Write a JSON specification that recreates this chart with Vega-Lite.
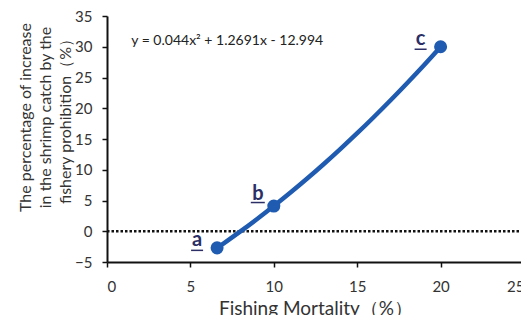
{
  "$schema": "https://vega.github.io/schema/vega-lite/v6.json",
  "width": 417,
  "height": 246,
  "autosize": {"type": "none"},
  "padding": {"left": 107, "top": 16, "right": 0, "bottom": 53},
  "background": "white",
  "config": {
    "view": {"stroke": null},
    "font": "Lato",
    "axis": {
      "grid": false,
      "domainColor": "#111111",
      "domainWidth": 2,
      "tickColor": "#111111",
      "tickWidth": 1.5,
      "tickSize": 5,
      "labelFont": "Lato",
      "labelFontSize": 15,
      "labelColor": "#333333",
      "labelOverlap": false,
      "titleFont": "Lato",
      "titleFontWeight": "normal",
      "titleColor": "#333333"
    }
  },
  "datasets": {
    "curve": [
      {"x": 6.6, "y": -2.7}, {"x": 7, "y": -1.96}, {"x": 8, "y": -0.03},
      {"x": 9, "y": 1.99}, {"x": 10, "y": 4.1}, {"x": 11, "y": 6.29},
      {"x": 12, "y": 8.57}, {"x": 13, "y": 10.94}, {"x": 14, "y": 13.4},
      {"x": 15, "y": 15.94}, {"x": 16, "y": 18.58}, {"x": 17, "y": 21.3},
      {"x": 18, "y": 24.11}, {"x": 19, "y": 27.0}, {"x": 20, "y": 29.99}
    ],
    "points": [
      {"x": 6.6, "y": -2.7, "label": "a"},
      {"x": 10, "y": 4.1, "label": "b"},
      {"x": 20, "y": 30, "label": "c"}
    ],
    "zero": [{"x": 0, "x2": 25, "y": 0}]
  },
  "encoding": {
    "x": {
      "field": "x", "type": "quantitative",
      "scale": {"domain": [0, 25], "nice": false, "zero": false},
      "axis": {"values": [0, 5, 10, 15, 20, 25], "labelOverlap": false, "title": "Fishing Mortality（%）", "titleFontSize": 19, "titlePadding": 5, "labelPadding": 12}
    },
    "y": {
      "field": "y", "type": "quantitative",
      "scale": {"domain": [-5, 35], "nice": false, "zero": false},
      "axis": {
        "values": [-5, 0, 5, 10, 15, 20, 25, 30, 35],
        "labelOverlap": false,
        "title": ["The percentage of increase", "in the shrimp catch by the", "fishery prohibition（%）"],
        "titleFontSize": 16,
        "titleLineHeight": 20,
        "titleBaseline": "top",
        "titleAnchor": "middle",
        "titleX": -90,
        "titleY": 101,
        "labelPadding": 10
      }
    }
  },
  "layer": [
    {
      "data": {"name": "zero"},
      "mark": {"type": "rule", "color": "#111111", "strokeWidth": 2.5, "strokeDash": [2.5, 2]},
      "encoding": {
        "x2": {"field": "x2"}
      }
    },
    {
      "data": {"name": "curve"},
      "mark": {"type": "line", "color": "#1f5bb0", "strokeWidth": 4.5, "interpolate": "monotone"}
    },
    {
      "data": {"name": "points"},
      "mark": {"type": "point", "filled": true, "opacity": 1, "size": 170, "color": "#1f5bb0"}
    },
    {
      "data": {"name": "points"},
      "transform": [{"filter": "datum.label != 'b'"}],
      "mark": {"type": "text", "font": "Lato", "fontWeight": "bold", "fontSize": 20, "color": "#2b2f66", "baseline": "alphabetic", "dx": -20, "dy": -2},
      "encoding": {"text": {"field": "label"}}
    },
    {
      "data": {"name": "points"},
      "transform": [{"filter": "datum.label == 'b'"}],
      "mark": {"type": "text", "font": "Lato", "fontWeight": "bold", "fontSize": 20, "color": "#2b2f66", "baseline": "alphabetic", "dx": -16, "dy": -6},
      "encoding": {"text": {"field": "label"}}
    },
    {
      "data": {"name": "points"},
      "transform": [{"filter": "datum.label != 'b'"}],
      "mark": {"type": "rule", "color": "#2b2f66", "strokeWidth": 1.5, "xOffset": -26, "x2Offset": -14, "yOffset": 2.5},
      "encoding": {"x2": {"field": "x"}}
    },
    {
      "data": {"name": "points"},
      "transform": [{"filter": "datum.label == 'b'"}],
      "mark": {"type": "rule", "color": "#2b2f66", "strokeWidth": 1.5, "xOffset": -23, "x2Offset": -9, "yOffset": -3.5},
      "encoding": {"x2": {"field": "x"}}
    },
    {
      "data": {"values": [{"t": "y = 0.044x² + 1.2691x - 12.994", "x": 1.45, "y": 31}]},
      "mark": {"type": "text", "font": "Lato", "fontSize": 14, "color": "#222222", "align": "left", "baseline": "middle"},
      "encoding": {"text": {"field": "t"}}
    }
  ]
}
